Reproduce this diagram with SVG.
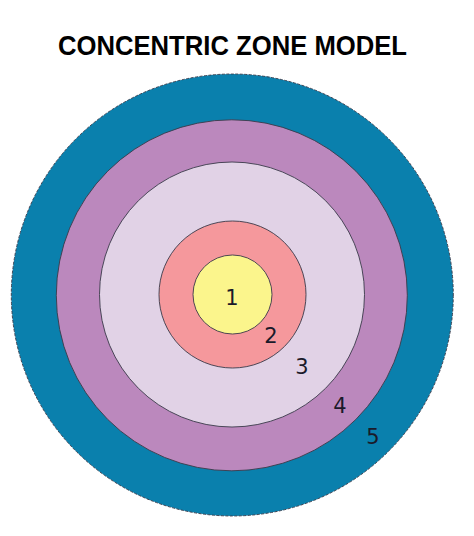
<svg xmlns="http://www.w3.org/2000/svg" width="474" height="536" viewBox="0 0 474 536">
<style>
.ring{stroke:#3a3a4a;stroke-width:0.9}
.lbl{font-family:"DejaVu Sans","Liberation Sans",sans-serif;font-size:21px;fill:#1a1a2a;text-anchor:middle}
.title{font-family:"Liberation Sans",Arial,sans-serif;font-weight:bold;font-size:28px;fill:#000}
</style>
<rect width="474" height="536" fill="#fff"/>
<text class="title" x="58" y="55" textLength="349" lengthAdjust="spacingAndGlyphs">CONCENTRIC ZONE MODEL</text>
<g id="zone5"><circle class="ring" cx="232.3" cy="295" r="221" fill="#0a80ad" stroke-dasharray="3 1.5"/></g>
<g id="zone4"><circle class="ring" cx="231.8" cy="295.3" r="175.5" fill="#bb88bd"/></g>
<g id="zone3"><circle class="ring" cx="232" cy="294.5" r="132.5" fill="#e1d2e6"/></g>
<g id="zone2"><circle class="ring" cx="232.5" cy="294.5" r="73.5" fill="#f5989c"/></g>
<g id="zone1"><circle class="ring" cx="232.5" cy="294.5" r="39.5" fill="#fbf58c"/></g>
<g id="labels">
<text class="lbl" x="232" y="305">1</text>
<text class="lbl" x="271" y="343">2</text>
<text class="lbl" x="302" y="374">3</text>
<text class="lbl" x="340" y="413">4</text>
<text class="lbl" x="373" y="444">5</text>
</g>
</svg>
